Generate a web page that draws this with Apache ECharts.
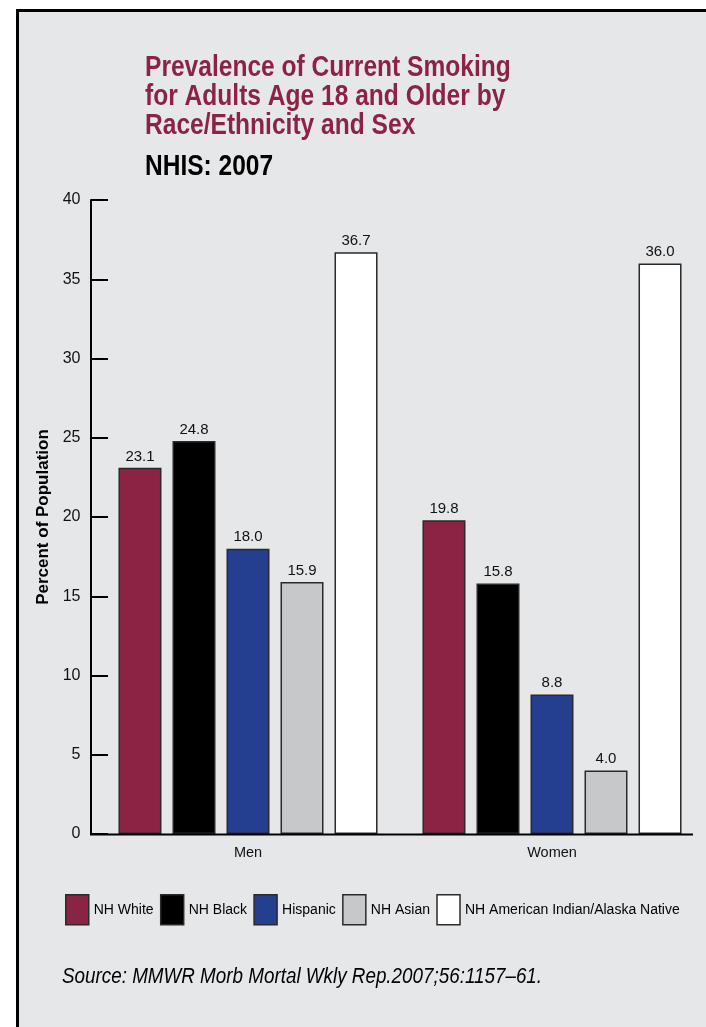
<!DOCTYPE html>
<html>
<head>
<meta charset="utf-8">
<title>Prevalence of Current Smoking — NHIS 2007</title>
<script src="https://cdn.jsdelivr.net/npm/echarts@6/dist/echarts.min.js"></script>
<style>
  html, body { margin: 0; padding: 0; background: #ffffff; }
  #chart { width: 706px; height: 1027px; }
</style>
</head>
<body>
<div id="chart"></div>
<script>
// Smoking prevalence (%) by sex, one array per race/ethnicity group
const categories = ['Men', 'Women'];
const groupNames = ['NH White', 'NH Black', 'Hispanic', 'NH Asian', 'NH American Indian/Alaska Native'];
const nhWhite = [23.1, 19.8];
const nhBlack = [24.8, 15.8];
const hispanic = [18.0, 8.8];
const nhAsian = [15.9, 4.0];
const nhAIAN = [36.7, 36.0];
const yTicks = [0, 5, 10, 15, 20, 25, 30, 35, 40];

const titleLines = ['Prevalence of Current Smoking', 'for Adults Age 18 and Older by', 'Race/Ethnicity and Sex'];
const subtitle = 'NHIS: 2007';
const sourceNote = 'Source: MMWR Morb Mortal Wkly Rep.2007;56:1157\u201361.';

const groupValues = [nhWhite, nhBlack, hispanic, nhAsian, nhAIAN];
const groupColors = ['#8a2344', '#000000', '#243f8f', '#c7c8ca', '#ffffff'];

const SANS = '"Liberation Sans", Arial, Helvetica, sans-serif';

const chart = echarts.init(document.getElementById('chart'), null, { renderer: 'canvas' });

const series = groupNames.map((name, i) => ({
  name: name,
  type: 'bar',
  data: groupValues[i],
  barWidth: 43,
  barGap: '25.6%',
  itemStyle: { color: groupColors[i], borderColor: '#2a2a2a', borderWidth: 1.5 },
  label: {
    show: true,
    position: 'top',
    distance: 4,
    color: '#111111',
    fontFamily: SANS,
    fontSize: 15,
    formatter: p => p.value.toFixed(1)
  },
  emphasis: { disabled: true }
}));

chart.setOption({
  animation: false,
  backgroundColor: '#ffffff',
  graphic: [
    // grey panel with black frame
    {
      type: 'rect',
      z: -10,
      silent: true,
      shape: { x: 17.5, y: 10.5, width: 720, height: 1040 },
      style: { fill: '#e6e7e9', stroke: '#000000', lineWidth: 3 }
    },
    // baseline of the bars
    {
      type: 'line',
      z: 10,
      silent: true,
      shape: { x1: 90, y1: 834.5, x2: 693, y2: 834.5 },
      style: { stroke: '#000000', lineWidth: 2 }
    },
    // condensed heading
    {
      type: 'text',
      x: 145,
      y: 53,
      scaleX: 0.847,
      silent: true,
      style: {
        text: titleLines.join('\n'),
        fill: '#8b2346',
        fontFamily: SANS,
        fontWeight: 'bold',
        fontSize: 29,
        lineHeight: 29,
        verticalAlign: 'top'
      }
    },
    {
      type: 'text',
      x: 145,
      y: 152,
      scaleX: 0.845,
      silent: true,
      style: {
        text: subtitle,
        fill: '#000000',
        fontFamily: SANS,
        fontWeight: 'bold',
        fontSize: 29,
        lineHeight: 29,
        verticalAlign: 'top'
      }
    },
    {
      type: 'text',
      x: 62,
      y: 966,
      scaleX: 0.856,
      silent: true,
      style: {
        text: sourceNote,
        fill: '#000000',
        fontFamily: SANS,
        fontStyle: 'italic',
        fontSize: 22,
        lineHeight: 22,
        verticalAlign: 'top'
      }
    }
  ],
  legend: {
    left: 65,
    top: 894,
    padding: 0,
    itemWidth: 23,
    itemHeight: 30,
    itemGap: 6.3,
    icon: 'rect',
    selectedMode: false,
    itemStyle: { borderColor: '#2a2a2a', borderWidth: 1.5 },
    textStyle: { color: '#000000', fontFamily: SANS, fontSize: 14 },
    data: groupNames
  },
  grid: { left: 96, right: 2, top: 200, bottom: 193, containLabel: false },
  xAxis: {
    type: 'category',
    data: categories,
    axisLine: { show: false },
    axisTick: { show: false },
    axisLabel: { color: '#111111', fontFamily: SANS, fontSize: 14.5, margin: 11 }
  },
  yAxis: {
    type: 'value',
    min: yTicks[0],
    max: yTicks[yTicks.length - 1],
    interval: 5,
    offset: 5,
    name: 'Percent of Population',
    nameLocation: 'middle',
    nameGap: 34,
    nameRotate: 90,
    nameTextStyle: { color: '#000000', fontFamily: SANS, fontWeight: 'bold', fontSize: 17 },
    axisLine: { show: true, lineStyle: { color: '#000000', width: 2 } },
    axisTick: { show: true, inside: true, length: 17, lineStyle: { color: '#000000', width: 2 } },
    axisLabel: { color: '#111111', fontFamily: SANS, fontSize: 16, margin: 10.5 },
    splitLine: { show: false }
  },
  series: series
});
</script>
</body>
</html>
